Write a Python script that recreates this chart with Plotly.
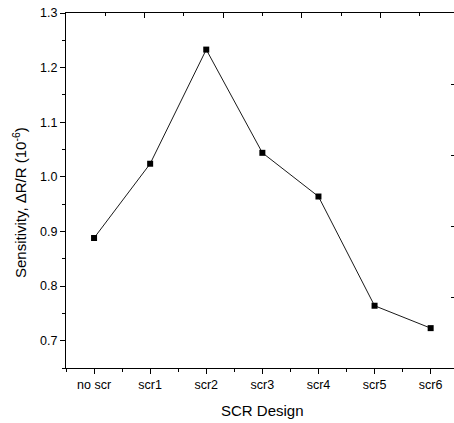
import plotly.graph_objects as go

categories = ["no scr", "scr1", "scr2", "scr3", "scr4", "scr5", "scr6"]
sensitivity = [0.888, 1.024, 1.233, 1.044, 0.964, 0.764, 0.723]
y_ticks = [0.7, 0.8, 0.9, 1.0, 1.1, 1.2, 1.3]

x_pos = list(range(len(categories)))
FONT = "Arial, 'Liberation Sans', sans-serif"

fig = go.Figure()
fig.add_trace(go.Scatter(
    x=x_pos, y=sensitivity, mode="lines+markers",
    line=dict(color="#1a1a1a", width=1),
    marker=dict(symbol="square", size=6, color="black"),
    showlegend=False, cliponaxis=False,
))
# invisible trace to activate the mirrored frame axes
fig.add_trace(go.Scatter(x=[0], y=[0], xaxis="x2", yaxis="y2",
                         mode="markers", marker=dict(opacity=0),
                         showlegend=False, hoverinfo="skip"))

fig.update_layout(
    width=454, height=423,
    margin=dict(l=66, r=0, t=13, b=55),
    paper_bgcolor="white", plot_bgcolor="white",
    font=dict(family=FONT, size=12.5, color="black"),
    xaxis=dict(
        range=[-0.5, 6.416], tickvals=x_pos, ticktext=categories,
        showgrid=False, zeroline=False, showline=True, linecolor="black", linewidth=1,
        ticks="outside", ticklen=5, tickcolor="black", tickwidth=1,
        minor=dict(tickvals=[i - 0.5 for i in range(len(categories) + 1)],
                   ticks="outside", ticklen=3, tickcolor="black", showgrid=False),
    ),
    yaxis=dict(
        range=[0.65, 1.3], tickvals=y_ticks, tickformat=".1f",
        showgrid=False, zeroline=False, showline=True, linecolor="black", linewidth=1,
        ticks="outside", ticklen=5, tickcolor="black", tickwidth=1,
        minor=dict(dtick=0.05, tick0=0.65, ticks="outside", ticklen=3,
                   tickcolor="black", showgrid=False),
    ),
    xaxis2=dict(
        overlaying="x", side="top", anchor="y", range=[0, 388 / 78.6],
        dtick=1, tick0=0, showticklabels=False, showgrid=False, zeroline=False,
        showline=True, linecolor="black", linewidth=1,
        ticks="inside", ticklen=5, tickcolor="black",
        minor=dict(dtick=0.5, ticks="inside", ticklen=3, tickcolor="black", showgrid=False),
    ),
    yaxis2=dict(
        overlaying="y", side="right", anchor="x", range=[0, 5],
        dtick=1, tick0=0, showticklabels=False, showgrid=False, zeroline=False,
        showline=False, ticks="inside", ticklen=3, tickcolor="black",
    ),
    annotations=[
        dict(text="Sensitivity, ΔR/R (10<sup>-6</sup>)", xref="paper", yref="paper",
             x=(20 - 66) / 388, y=(368 - 203) / 355, textangle=-90,
             showarrow=False, font=dict(size=15), xanchor="center", yanchor="middle"),
        dict(text="SCR Design", xref="paper", yref="paper",
             x=(262.5 - 66) / 388, y=(368 - 410) / 355,
             showarrow=False, font=dict(size=15), xanchor="center", yanchor="middle"),
    ],
)

fig.write_html("out.html")
